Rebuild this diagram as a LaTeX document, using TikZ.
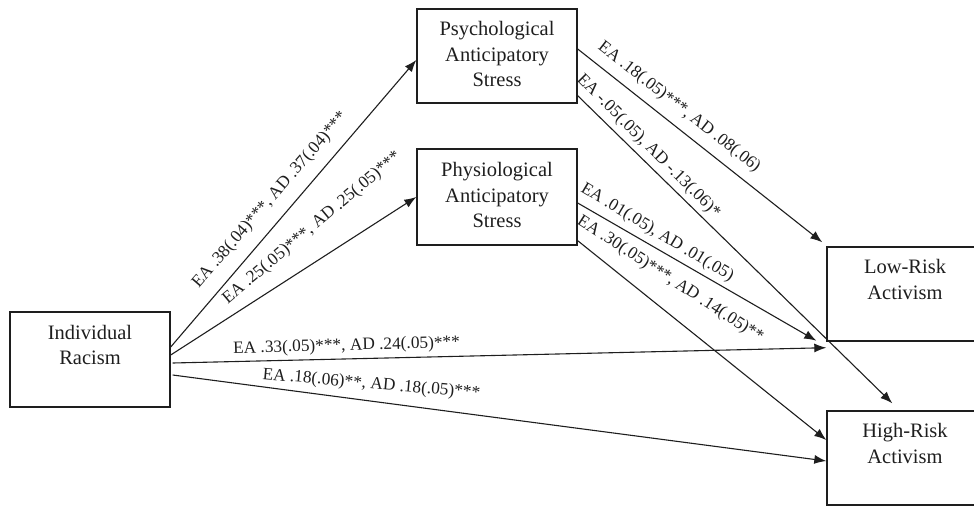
\documentclass[tikz,border=0pt]{standalone}
\usepackage{fontspec}
\setmainfont{Liberation Serif}
\usetikzlibrary{arrows.meta,calc}
\definecolor{ink}{RGB}{30,30,30}
\begin{document}
\begin{tikzpicture}[x=1pt,y=-1pt,
  box/.style={draw=ink, line width=1.4pt, rectangle, inner sep=0pt},
  boxtext/.style={align=center, inner sep=0pt, font=\fontsize{20.5}{25.6}\selectfont, text=ink},
  conn/.style={draw=ink, line width=1.1pt, -{Latex[length=12pt,width=9pt]}},
  lab/.style={inner sep=0pt, font=\fontsize{17.3}{20}\selectfont, text=ink, anchor=center}]
\useasboundingbox (0,0) rectangle (974,506);
\clip (0,0) rectangle (974,506);
% boxes
\node[box, minimum width=160pt, minimum height=95pt] (ir) at (90,359.5) {};
\node[boxtext] (irt) at (90,345) {Individual\\Racism};
\node[box, minimum width=160pt, minimum height=94pt] (ps) at (497,56) {};
\node[boxtext] (pst) at (497,54) {Psychological\\Anticipatory\\Stress};
\node[box, minimum width=160pt, minimum height=96pt] (ph) at (497,197) {};
\node[boxtext] (pht) at (497,195) {Physiological\\Anticipatory\\Stress};
\node[box, minimum width=163pt, minimum height=94pt] (lw) at (908.5,294) {};
\node[boxtext] (lwt) at (905,279.5) {Low-Risk\\Activism};
\node[box, minimum width=163pt, minimum height=94pt] (hr) at (908.5,458) {};
\node[boxtext] (hrt) at (905,443.5) {High-Risk\\Activism};
% connector end points
\coordinate (a1) at ([yshift=12.5pt]ir.east);
\coordinate (b1) at ([yshift=-4pt]ps.west);
\coordinate (a2) at ([yshift=4.5pt]ir.east);
\coordinate (b2) at (ph.west);
\coordinate (a3) at ([xshift=2pt,yshift=-3.5pt]ir.east);
\coordinate (b3) at ([yshift=-6pt]lw.south west);
\coordinate (a4) at ([xshift=2pt,yshift=-15.5pt]ir.east);
\coordinate (b4) at ([yshift=-3pt]hr.west);
\coordinate (a5) at ([yshift=7pt]ps.east);
\coordinate (b5) at ([xshift=-4pt,yshift=4pt]lw.north west);
\coordinate (a6) at ([yshift=8pt]ps.south east);
\coordinate (b6) at ([xshift=66pt,yshift=7pt]hr.north west);
\coordinate (a7) at ([yshift=-6pt]ph.east);
\coordinate (b7) at ([xshift=-10pt,yshift=1pt]lw.south west);
\coordinate (a8) at ([yshift=5pt]ph.south east);
\coordinate (b8) at ([yshift=18pt]hr.west);
% connectors
\draw[conn] (a1) -- (b1);
\draw[conn] (a2) -- (b2);
\draw[conn] (a3) -- (b3);
\draw[conn] (a4) -- (b4);
\draw[conn] (a5) -- (b5);
\draw[conn] (a6) -- (b6);
\draw[conn] (a7) -- (b7);
\draw[conn] (a8) -- (b8);
% labels
\node[lab, rotate=49] (l1) at ($(a1)!0.466!(b1)+(-15.1,-13.1)$) {EA .38(.04)***, AD .37(.04)***};
\node[lab, rotate=40] (l2) at ($(a2)!0.642!(b2)+(-16.3,-25.6)$) {EA .25(.05)***, AD .25(.05)***};
\node[lab, rotate=1.5] (l3) at ($(a3)!0.266!(b3)+(0,-12.7)$) {EA .33(.05)***, AD .24(.05)***};
\node[lab, rotate=-5] (l4) at ($(a4)!0.304!(b4)+(0,-16.6)$) {EA .18(.06)**, AD .18(.05)***};
\node[lab, rotate=-38] (l5) at ($(a5)!0.371!(b5)+(10.7,-13.5)$) {EA .18(.05)***, AD .08(.06)};
\node[lab, rotate=-45] (l6) at ($(a6)!0.197!(b6)+(8.7,-9.9)$) {EA -.05(.05), AD -.13(.06)*};
\node[lab, rotate=-31] (l7) at ($(a7)!0.304!(b7)+(6.9,-12.1)$) {EA .01(.05), AD .01(.05)};
\node[lab, rotate=-33] (l8) at ($(a8)!0.303!(b8)+(17.2,-21.6)$) {EA .30(.05)***, AD .14(.05)**};
\end{tikzpicture}
\end{document}
